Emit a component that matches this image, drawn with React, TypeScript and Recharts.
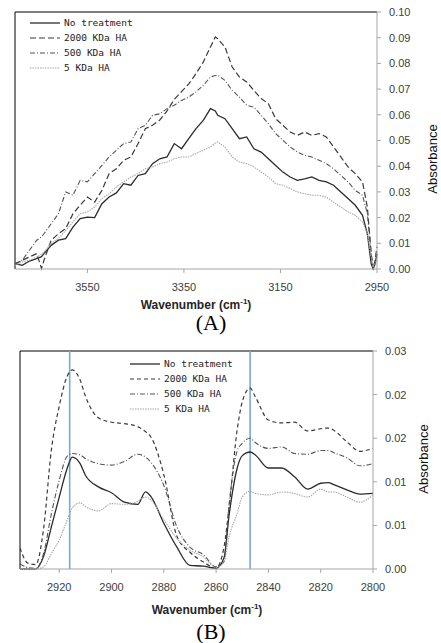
import React from "react"
import { LineChart, Line, XAxis, YAxis, ReferenceLine } from "recharts"

// (A) 3700-2950 cm-1 region, absorbance values x 0.001
const wnA = [3700, 3685, 3670, 3655, 3645, 3640, 3625, 3610, 3595, 3580, 3565, 3550, 3535, 3520, 3505, 3490, 3475, 3460, 3445, 3430, 3415, 3400, 3385, 3370, 3355, 3340, 3325, 3310, 3295, 3285, 3280, 3265, 3250, 3235, 3220, 3205, 3190, 3175, 3160, 3145, 3130, 3115, 3100, 3085, 3070, 3055, 3040, 3025, 3010, 2995, 2980, 2970, 2962, 2958, 2954, 2950]
const noTreatA = [2.1, 1.4, 3.1, 4.0, 4.8, 6.0, 9.2, 11.2, 11.8, 16.3, 19.6, 20.2, 20.0, 25.4, 28.0, 29.6, 33.2, 32.6, 36.4, 37.1, 41.0, 42.9, 43.6, 48.8, 46.8, 50.7, 54.6, 57.8, 62.4, 61.5, 59.8, 58.5, 54.6, 50.7, 51.4, 46.8, 45.5, 42.9, 40.3, 37.7, 35.8, 34.5, 35.1, 35.8, 34.5, 33.9, 32.6, 30.0, 27.4, 24.8, 20.9, 13.7, 2.0, 0, 2.0, 6.0]
const ha2000A = [2.0, 3.4, 4.7, 6.0, 0.2, 3.4, 11.2, 13.7, 15.7, 21.5, 24.8, 28.0, 26.0, 30.6, 37.1, 39.0, 42.3, 43.6, 48.8, 54.6, 55.9, 58.0, 61.5, 66.0, 69.0, 72.0, 76.0, 80.5, 86.4, 90.3, 89.6, 86.4, 78.6, 74.7, 72.8, 69.5, 66.3, 64.3, 58.5, 55.9, 53.3, 52.0, 53.3, 52.0, 52.7, 51.4, 47.5, 43.6, 39.7, 37.1, 33.9, 24.1, 6.0, 0, 3.4, 8.6]
const ha500A = [2.0, 3.4, 7.3, 11.2, 12.5, 13.7, 17.6, 21.5, 30.0, 28.7, 34.5, 33.9, 37.1, 40.3, 43.6, 46.2, 48.8, 49.4, 54.6, 55.9, 59.8, 60.4, 62.4, 63.7, 65.6, 66.9, 68.9, 71.5, 74.7, 75.3, 75.4, 73.4, 69.5, 66.9, 63.7, 63.0, 59.8, 56.5, 52.7, 50.1, 47.5, 45.5, 44.2, 43.6, 42.3, 41.0, 39.0, 36.4, 33.9, 30.6, 28.7, 21.5, 6.0, 0, 2.0, 4.7]
const ha5A = [1.4, 2.7, 3.4, 4.7, 5.8, 6.6, 9.9, 11.8, 15.0, 18.3, 21.5, 22.2, 24.1, 27.4, 29.3, 31.9, 33.9, 35.8, 37.1, 39.0, 39.7, 41.0, 41.6, 42.9, 43.6, 43.6, 44.9, 46.2, 47.5, 49.0, 49.4, 47.5, 43.6, 41.6, 41.0, 39.7, 37.7, 35.8, 33.2, 32.6, 31.3, 30.0, 29.3, 28.7, 28.7, 28.0, 26.0, 24.1, 22.2, 20.9, 18.3, 13.7, 4.7, 0.8, 2.0, 4.0]

// (B) 2935-2800 cm-1 region, absorbance values x 0.001
const wnB = [2935, 2932, 2929, 2926, 2923, 2920, 2917, 2915, 2912, 2910, 2905, 2900, 2895, 2890, 2887, 2885, 2880, 2875, 2870, 2865, 2860, 2857, 2855, 2852, 2850, 2847, 2845, 2840, 2835, 2830, 2825, 2820, 2817, 2815, 2810, 2805, 2800]
const noTreatB = [0, 0, 0, 1.7, 5.8, 9.9, 13.8, 15.4, 14.5, 12.9, 11.3, 10.5, 9.2, 8.9, 10.6, 10.0, 6.3, 3.0, 0.5, 0.4, 0.1, 1.5, 7.5, 13.8, 15.6, 16.1, 15.7, 13.9, 13.9, 12.7, 11.0, 11.8, 11.9, 11.6, 10.9, 10.3, 10.4]
const ha2000B = [2.9, 0.8, 0.6, 5.5, 16.4, 22.4, 26.5, 27.4, 26.0, 23.8, 20.8, 20.2, 20.0, 19.6, 18.9, 18.2, 13.0, 4.5, 2.3, 1.0, 0.14, 3.0, 8.6, 19.0, 23.0, 24.9, 23.7, 20.5, 20.1, 20.2, 19.0, 19.3, 19.4, 19.1, 17.5, 16.2, 16.6]
const ha500B = [0.7, 0.2, 0.1, 2.1, 7.6, 12.2, 15.5, 15.9, 15.7, 15.2, 14.5, 14.3, 14.8, 15.8, 15.4, 14.7, 11.5, 5.8, 3.0, 2.0, 0.3, 1.0, 9.0, 16.2, 17.3, 18.0, 17.4, 16.6, 16.8, 15.9, 15.8, 16.3, 16.3, 16.0, 15.3, 14.2, 14.5]
const ha5B = [0, 0, 0, 0.3, 2.1, 4.0, 6.7, 8.4, 9.1, 8.6, 8.0, 9.0, 8.9, 9.3, 9.9, 9.5, 6.8, 4.2, 2.6, 1.7, 0.2, 1.0, 4.5, 7.6, 9.9, 10.7, 10.4, 10.2, 10.6, 10.4, 9.9, 11.0, 10.6, 10.6, 9.9, 9.2, 10.2]

const ticksXA = [3550, 3350, 3150, 2950]
const ticksYA = [0, 0.01, 0.02, 0.03, 0.04, 0.05, 0.06, 0.07, 0.08, 0.09, 0.1]
const ticksXB = [2920, 2900, 2880, 2860, 2840, 2820, 2800]
const ticksYB = [0, 0.006, 0.012, 0.018, 0.024, 0.03]
const peaksB = [2916, 2847]

const labels = ["No treatment", "2000 KDa HA", "500 KDa HA", "5 KDa HA"]

const dataA = wnA.map((wn, i) => ({
  wn,
  none: noTreatA[i] / 1000,
  h2000: ha2000A[i] / 1000,
  h500: ha500A[i] / 1000,
  h5: ha5A[i] / 1000,
}))

const dataB = wnB.map((wn, i) => ({
  wn,
  none: noTreatB[i] / 1000,
  h2000: ha2000B[i] / 1000,
  h500: ha500B[i] / 1000,
  h5: ha5B[i] / 1000,
}))

const styles = [
  { key: "none", color: "#2b2b2b", dash: undefined, width: 1.3 },
  { key: "h2000", color: "#3a3a3a", dash: "6 3", width: 1.2 },
  { key: "h500", color: "#555555", dash: "5 2 1 2", width: 1.1 },
  { key: "h5", color: "#a8a8a8", dash: "1.5 1", width: 1.1 },
]

const tickFont = { fontFamily: "Liberation Sans, Arial, sans-serif", fontSize: 11, fill: "#404040" }
const axisGray = "#a6a6a6"

function LegendBox({ left, top, dash2000 }: { left: number; top: number; dash2000: string }) {
  return (
    <div style={{ position: "absolute", left, top }}>
      {labels.map((lab, i) => {
        const s = styles[i]
        const dash = i === 1 ? dash2000 : s.dash
        return (
          <div key={lab} style={{ display: "flex", alignItems: "center", height: 15 }}>
            <svg width={30} height={6} style={{ marginRight: 4 }}>
              <line x1={0} y1={3} x2={30} y2={3} stroke={s.color} strokeWidth={s.width} strokeDasharray={dash} />
            </svg>
            <span style={{ fontFamily: "DejaVu Sans Mono, monospace", fontSize: 9.5, color: "#222", whiteSpace: "pre" }}>{lab}</span>
          </div>
        )
      })}
    </div>
  )
}

function AxisTitle({ x, y }: { x: number; y: number }) {
  return (
    <div style={{ position: "absolute", left: x, top: y - 7, transform: "translateX(-50%)", whiteSpace: "nowrap", fontFamily: "Liberation Sans, Arial, sans-serif", fontWeight: "bold", fontSize: 12, lineHeight: "14px", color: "#262626" }}>
      Wavenumber  (cm<sup style={{ fontSize: 8 }}>-1</sup>)
    </div>
  )
}

function YTitle({ x, y }: { x: number; y: number }) {
  return (
    <div style={{ position: "absolute", left: x, top: y, transform: "translate(-50%, -50%) rotate(-90deg)", whiteSpace: "nowrap", fontFamily: "Liberation Sans, Arial, sans-serif", fontSize: 13, color: "#111" }}>
      Absorbance
    </div>
  )
}

function Panel({ text, x, y }: { text: string; x: number; y: number }) {
  return (
    <div style={{ position: "absolute", left: x, top: y, transform: "translate(-50%, -50%)", fontFamily: "Liberation Serif, serif", fontSize: 22, color: "#000" }}>
      {text}
    </div>
  )
}

export default function App() {
  return (
    <div style={{ position: "absolute", left: 0, top: 0, width: 441, height: 643, background: "#fff" }}>
      <div style={{ position: "absolute", left: 0, top: 0 }}>
        <LineChart width={441} height={300} data={dataA} margin={{ top: 12, right: 0, left: 15, bottom: 11 }}>
          <XAxis dataKey="wn" type="number" domain={[2950, 3700]} reversed ticks={ticksXA} height={20} tickSize={4} tickMargin={10} stroke={axisGray} tick={tickFont} />
          <YAxis orientation="right" domain={[0, 0.1]} ticks={ticksYA} tickFormatter={(v: number) => v.toFixed(2)} width={64} tickSize={4} tickMargin={8} stroke={axisGray} tick={tickFont} />
          <ReferenceLine y={0.1} stroke="#000" strokeWidth={1} />
          <ReferenceLine x={3700} stroke="#000" strokeWidth={1} />
          {styles.map((s) => (
            <Line key={s.key} dataKey={s.key} type="linear" stroke={s.color} strokeWidth={s.width} strokeDasharray={s.dash} dot={false} isAnimationActive={false} />
          ))}
        </LineChart>
      </div>
      <LegendBox left={30} top={15} dash2000="6 3" />
      <AxisTitle x={196} y={302} />
      <YTitle x={432} y={159} />
      <Panel text="(A)" x={211} y={323} />

      <div style={{ position: "absolute", left: 0, top: 339 }}>
        <LineChart width={441} height={260} data={dataB} margin={{ top: 12, right: 0, left: 20, bottom: 10 }}>
          <XAxis dataKey="wn" type="number" domain={[2800, 2935]} reversed ticks={ticksXB} height={20} tickSize={4} tickMargin={10} stroke={axisGray} tick={tickFont} allowDataOverflow />
          <YAxis orientation="right" domain={[0, 0.03]} ticks={ticksYB} tickFormatter={(v: number) => v.toFixed(2)} width={68} tickSize={4} tickMargin={8} stroke={axisGray} tick={tickFont} />
          <ReferenceLine y={0.03} stroke="#000" strokeWidth={1} />
          <ReferenceLine x={2935} stroke="#000" strokeWidth={1} />
          {peaksB.map((p) => (
            <ReferenceLine key={p} x={p} stroke="#7aa6da" strokeWidth={1.6} />
          ))}
          {styles.map((s) => (
            <Line key={s.key} dataKey={s.key} type="monotone" stroke={s.color} strokeWidth={s.width} strokeDasharray={s.key === "h2000" ? "4 3" : s.dash} dot={false} isAnimationActive={false} />
          ))}
        </LineChart>
      </div>
      <LegendBox left={130} top={356} dash2000="4 3" />
      <AxisTitle x={207} y={607} />
      <YTitle x={423} y={459} />
      <Panel text="(B)" x={211} y={632} />
    </div>
  )
}
